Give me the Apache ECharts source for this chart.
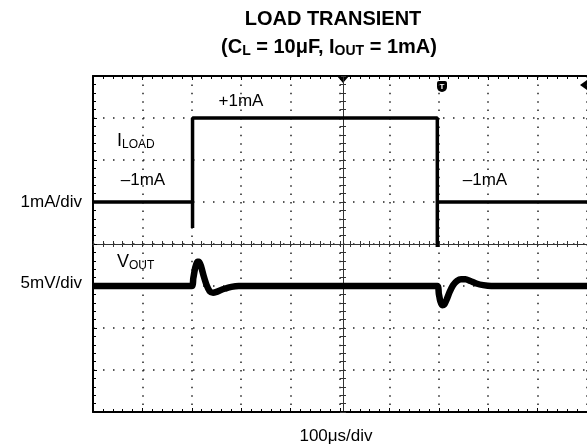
<!DOCTYPE html>
<html>
<head>
<meta charset="utf-8">
<script src="https://cdn.jsdelivr.net/npm/echarts@6/dist/echarts.min.js"></script>
<style>
  html, body { margin: 0; padding: 0; background: #fff; }
  #chart { width: 587px; height: 447px; }
</style>
</head>
<body>
<div id="chart"></div>
<script>
// time in µs (100µs/div), current in mA (1mA/div), Vout deviation in mV (5mV/div)
const loadTime = [0, 201.5, 201.5, 201.5, 697, 697, 697, 1000]
const loadCurrent = [-1, -1, -1.62, 1, 1, -2.07, -1, -1]

const voutTime = [0, 200, 203, 207, 211, 215, 219, 224, 230, 236, 243, 250, 258, 268, 280, 295, 312,
  697, 700, 703, 707, 711, 716, 722, 729, 737, 745, 754, 764, 776, 790, 806, 1000]
const voutMv = [0, 0, 0.9, 2.2, 2.9, 2.9, 2.3, 1.2, 0.1, -0.6, -0.8, -0.7, -0.5, -0.3, -0.1, 0, 0,
  0, -0.9, -1.8, -2.3, -2.2, -1.6, -0.7, 0.1, 0.6, 0.8, 0.8, 0.6, 0.3, 0.1, 0, 0]

// scope screen: 10 x 8 divisions
const timeRange = [0, 1000]
const divRange = [0, 8]
const currentRange = [-6, 2]
const voutRange = [-15, 25]

const FONT = '"Liberation Sans", Arial, Helvetica, sans-serif'
const myChart = echarts.init(document.getElementById('chart'))

const dotColor = '#222'

// helper for the plain (unlabelled) scope axes
const scopeX = (pos, extra) => Object.assign({
  type: 'value', min: timeRange[0], max: timeRange[1], interval: 100,
  position: pos,
  axisLabel: { show: false },
  splitLine: { show: false },
  axisLine: { onZero: false, lineStyle: { color: '#000', width: 2 } },
  axisTick: { inside: true, length: 4, lineStyle: { color: '#000' } },
  minorTick: { show: true, splitNumber: 5, length: 3, lineStyle: { color: '#000' } },
}, extra)

const scopeY = (pos, extra) => Object.assign({
  type: 'value', min: divRange[0], max: divRange[1], interval: 1,
  position: pos,
  axisLabel: { show: false },
  splitLine: { show: false },
  axisLine: { onZero: false, lineStyle: { color: '#000', width: 2 } },
  axisTick: { inside: true, length: 4, lineStyle: { color: '#000' } },
  minorTick: { show: true, splitNumber: 5, length: 3, lineStyle: { color: '#000' } },
}, extra)

const centerLine = { onZero: false, lineStyle: { color: '#333', width: 1 } }
const centerTick = (inside) => ({ inside: inside, length: 3, lineStyle: { color: '#333' } })
const centerMinor = () => ({ show: true, splitNumber: 5, length: 3, lineStyle: { color: '#333' } })

const label = (x, y, text, align) => ({
  type: 'text', x: x, y: y,
  style: { text: text, font: '17px ' + FONT, fill: '#000', align: align || 'center', verticalAlign: 'middle' },
})

const subLabel = (x, y, main, sub) => ({
  type: 'text', x: x, y: y,
  style: {
    text: '{b|' + main + '}{s|' + sub + '}', verticalAlign: 'middle',
    rich: {
      b: { font: '18px ' + FONT, fill: '#000' },
      s: { font: '12px ' + FONT, fill: '#000', padding: [8, 0, 0, 0] },
    },
  },
})

const option = {
  animation: false,
  backgroundColor: '#fff',
  grid: { left: 93, top: 76, width: 500, height: 336 },
  xAxis: [
    scopeX('bottom', {
      splitLine: { show: true, lineStyle: { color: dotColor, width: 1.5, type: [1.5, 6.9] } },
    }),
    scopeX('top'),
    scopeX('bottom', { offset: -168, axisLine: centerLine, axisTick: centerTick(true), minorTick: centerMinor() }),
    scopeX('bottom', { offset: -168, axisLine: centerLine, axisTick: centerTick(false), minorTick: centerMinor() }),
  ],
  yAxis: [
    scopeY('left', {
      splitLine: { show: true, lineStyle: { color: dotColor, width: 1.5, type: [1.5, 8.5] } },
    }),
    scopeY('left', { offset: -250, axisLine: centerLine, axisTick: centerTick(true), minorTick: centerMinor() }),
    scopeY('left', { offset: -250, axisLine: centerLine, axisTick: centerTick(false), minorTick: centerMinor() }),
    { type: 'value', min: currentRange[0], max: currentRange[1], show: false, axisLine: { onZero: false } },
    { type: 'value', min: voutRange[0], max: voutRange[1], show: false, axisLine: { onZero: false } },
  ],
  series: [
    {
      name: 'ILOAD',
      type: 'line',
      xAxisIndex: 0,
      yAxisIndex: 3,
      data: loadTime.map((t, i) => [t, loadCurrent[i]]),
      symbol: 'none',
      lineStyle: { color: '#000', width: 3.5 },
    },
    {
      name: 'VOUT',
      type: 'line',
      xAxisIndex: 0,
      yAxisIndex: 4,
      data: voutTime.map((t, i) => [t, voutMv[i]]),
      symbol: 'none',
      smooth: 0.2,
      lineStyle: { color: '#000', width: 6.5 },
    },
  ],
  graphic: [
    // title
    {
      type: 'text', x: 333, y: 19,
      style: { text: 'LOAD TRANSIENT', font: 'bold 20px ' + FONT, fill: '#000', align: 'center', verticalAlign: 'middle' },
    },
    {
      type: 'text', x: 329, y: 47,
      style: {
        text: '{b|(C}{s|L}{b| = 10\u03bcF, I}{s|OUT}{b| = 1mA)}',
        align: 'center', verticalAlign: 'middle',
        rich: {
          b: { font: 'bold 20px ' + FONT, fill: '#000' },
          s: { font: 'bold 14px ' + FONT, fill: '#000', padding: [9, 0, 0, 0] },
        },
      },
    },
    // left scale labels
    label(82, 202, '1mA/div', 'right'),
    label(82, 283, '5mV/div', 'right'),
    // bottom scale label
    label(336, 436, '100\u03bcs/div'),
    // trace annotations
    label(241, 101, '+1mA'),
    label(143, 180, '\u20131mA'),
    label(485, 180, '\u20131mA'),
    subLabel(117, 141, 'I', 'LOAD'),
    subLabel(117, 262, 'V', 'OUT'),
    // scope markers
    { type: 'polygon', shape: { points: [[337, 76], [349, 76], [343, 83]] }, style: { fill: '#000' } },
    { type: 'rect', shape: { x: 437, y: 81, width: 10, height: 11, r: [2, 2, 5, 5] }, style: { fill: '#000' } },
    { type: 'text', x: 442, y: 86.5, style: { text: 'T', font: 'bold 8px ' + FONT, fill: '#fff', align: 'center', verticalAlign: 'middle' } },
    { type: 'polygon', shape: { points: [[580, 85], [587, 80], [587, 90]] }, style: { fill: '#000' } },
  ],
}

myChart.setOption(option)
</script>
</body>
</html>
